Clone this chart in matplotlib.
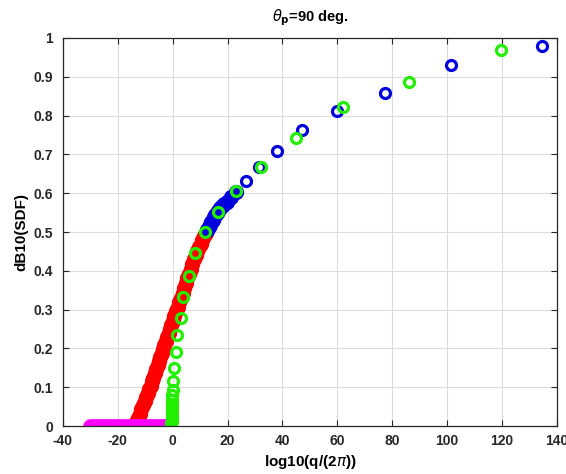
import matplotlib
matplotlib.use("Agg")
import matplotlib.pyplot as plt

plt.rcParams['font.family'] = ['Liberation Sans', 'DejaVu Sans']
plt.rcParams['mathtext.fontset'] = 'dejavusans'

# red band (dense)
red_x = [-13.8, -13.2, -12.6, -12.0, -11.4, -10.8, -10.2, -9.6, -9.0, -8.5, -8.0, -7.5,
         -7.0, -6.5, -6.0, -5.5, -5.0, -4.5, -4.0, -3.5, -3.0, -2.5, -2.0, -1.5, -1.0,
         -0.5, 0.0, 0.6, 1.2, 1.8, 2.4, 3.0, 3.6, 4.2, 4.8, 5.4, 6.0, 6.6, 7.2, 7.8,
         8.4, 9.0, 9.6, 10.2, 10.8, 11.4, 12.0, 12.6]
red_y = [0.000, 0.011, 0.022, 0.032, 0.043, 0.054, 0.065, 0.075, 0.086, 0.095, 0.104, 0.115,
         0.125, 0.136, 0.146, 0.157, 0.167, 0.177, 0.188, 0.198, 0.209, 0.219, 0.230, 0.240,
         0.251, 0.261, 0.271, 0.284, 0.296, 0.308, 0.320, 0.331, 0.343, 0.356, 0.368, 0.381,
         0.393, 0.406, 0.418, 0.430, 0.440, 0.451, 0.461, 0.470, 0.479, 0.489, 0.497, 0.505]

# blue
blue_x = [12.6, 13.1, 13.6, 14.1, 14.6, 15.1, 15.6, 16.1, 16.7, 17.3, 18.0, 18.8, 19.7,
          21.4, 23.0, 26.9, 31.4, 38.1, 47.3, 59.7, 77.3, 101.3, 134.6]
blue_y = [0.505, 0.512, 0.519, 0.526, 0.532, 0.538, 0.544, 0.549, 0.555, 0.561, 0.567, 0.572,
          0.578, 0.591, 0.604, 0.632, 0.668, 0.709, 0.762, 0.812, 0.859, 0.930, 0.980]

# magenta along zero
mag_x = [-30, -29, -28, -27, -26, -25, -24, -23, -22, -21, -20, -19, -18, -17, -16,
         -15, -14, -13, -12, -11, -10, -9, -8, -7, -6, -5, -4, -3, -2, -1]
mag_y = [0] * len(mag_x)

# green
green_x = [119.6, 86.1, 62.2, 44.8, 32.1, 23.2, 16.5, 11.7, 8.0, 6.0, 3.8, 2.9, 1.6, 1.1,
           0.6, 0.2, 0.0, -0.1, -0.1, -0.2, -0.2, -0.3, -0.3, -0.3, -0.4, -0.4, -0.4,
           -0.5, -0.5, -0.5, -0.5, -0.5, -0.5]
green_y = [0.970, 0.887, 0.821, 0.741, 0.668, 0.606, 0.552, 0.499, 0.445, 0.387, 0.332,
           0.279, 0.235, 0.190, 0.150, 0.115, 0.093, 0.080, 0.067, 0.057, 0.048, 0.040,
           0.033, 0.027, 0.022, 0.017, 0.013, 0.009, 0.006, 0.004, 0.002, 0.001, 0.000]

xticks = [-40, -20, 0, 20, 40, 60, 80, 100, 120, 140]
yticks = [0, 0.1, 0.2, 0.3, 0.4, 0.5, 0.6, 0.7, 0.8, 0.9, 1]
ylabels = ['0', '0.1', '0.2', '0.3', '0.4', '0.5', '0.6', '0.7', '0.8', '0.9', '1']

fig = plt.figure(figsize=(5.66, 4.74), dpi=100)
ax = fig.add_axes([0.111, 0.101, 0.873, 0.819])

ax.plot(red_x, red_y, 'o', color='red', ms=9.5, mew=1.5, mfc='red', ls='none')
ax.plot(blue_x[:15], blue_y[:15], 'o', color='#0000dd', ms=9.5, mew=1.5, mfc='#0000dd', ls='none')
ax.plot(blue_x[15:], blue_y[15:], 'o', color='#0000dd', ms=7.2, mew=2.3, mfc='none', ls='none')
ax.plot(mag_x, mag_y, 'o', color='magenta', ms=9, mew=1.5, mfc='magenta', ls='none')
ax.plot(green_x, green_y, 'o', color='#22ee00', ms=7.2, mew=2.3, mfc='none', ls='none')

ax.set_xlim(-40, 140)
ax.set_ylim(0, 1)
ax.set_xticks(xticks)
ax.set_xticklabels([str(t) for t in xticks], fontweight='bold', fontsize=10)
ax.set_yticks(yticks)
ax.set_yticklabels(ylabels, fontweight='bold', fontsize=10)
ax.tick_params(direction='in', length=4, top=True, right=True, colors='#262626')
ax.tick_params(axis='x', pad=6)
ax.tick_params(axis='y', pad=7)
ax.grid(True, color='#dcdcdc', lw=0.8)
ax.set_axisbelow(True)
for s in ax.spines.values():
    s.set_color('#262626')
    s.set_linewidth(0.9)

ax.set_xlabel(r'log10(q/(2$\pi$))', fontweight='bold', fontsize=11, labelpad=3)
ax.set_ylabel('dB10(SDF)', fontweight='bold', fontsize=11, labelpad=4)
ax.set_title(r'$\theta_\mathbf{p}$=90 deg.', fontweight='bold', fontsize=10.5, pad=12)

fig.savefig('out.png', dpi=100)
